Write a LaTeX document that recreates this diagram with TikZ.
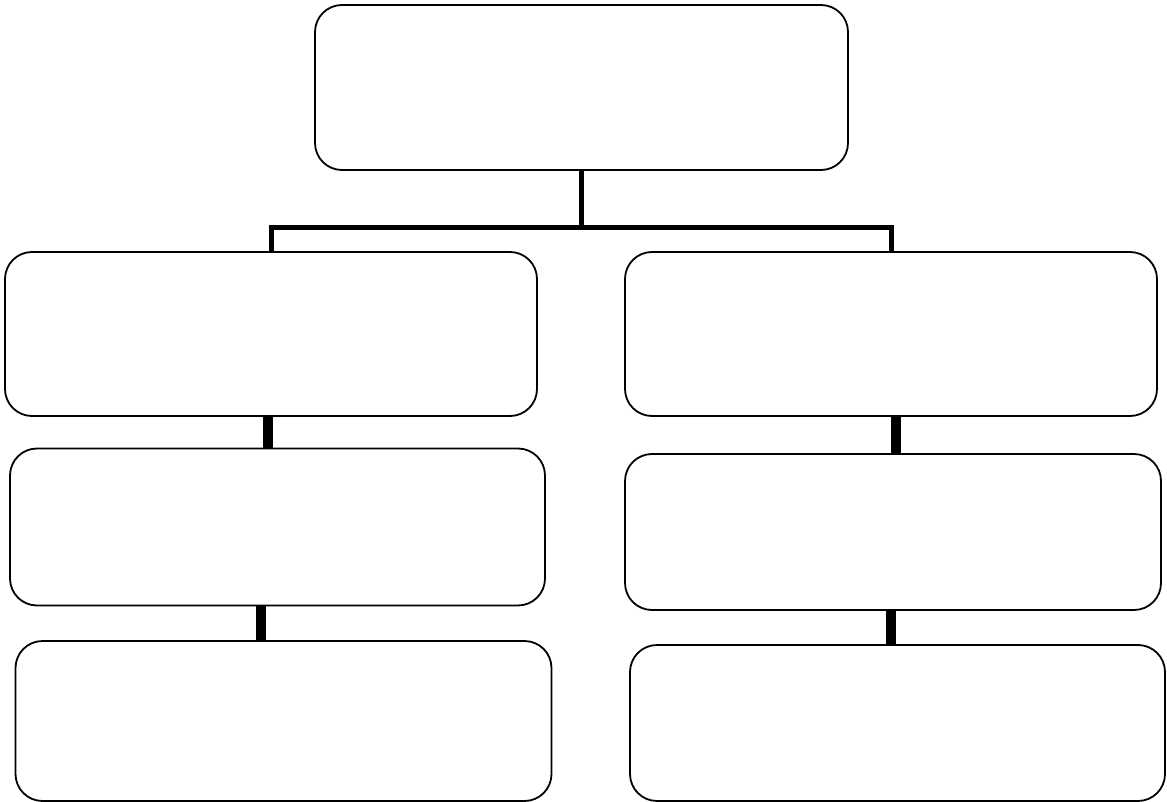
\documentclass[tikz,border=0pt]{standalone}
\usetikzlibrary{positioning}

\tikzset{
  box/.style={draw, line width=1.8pt, rounded corners=27pt, inner sep=0pt, outer sep=0pt},
  tree/.style={line width=5pt, line join=miter},
  link/.style={line width=10pt}
}

\begin{document}
\begin{tikzpicture}[x=1pt, y=-1pt]
\useasboundingbox (0,0) rectangle (1167,802);
\node[box, minimum width=533pt, minimum height=165pt] (top) at (581.5,87.5) {};
\node[box, minimum width=532pt, minimum height=164pt] (l1) at (271,334) {};
\node[box, minimum width=535pt, minimum height=157pt] (l2) at (277.5,527) {};
\node[box, minimum width=536pt, minimum height=160pt] (l3) at (283.5,721) {};
\node[box, minimum width=532pt, minimum height=164pt] (r1) at (891,334) {};
\node[box, minimum width=536pt, minimum height=156pt] (r2) at (893,532) {};
\node[box, minimum width=535pt, minimum height=156pt] (r3) at (897.5,723) {};
\coordinate (fork) at (581.5,228);
\draw[tree] (top.south) -- (fork);
\draw[tree] (l1.north) |- (fork) -| (r1.north);
\draw[link] ([xshift=-3pt]l1.south) -- ([xshift=-3pt]l1.south |- l2.north);
\draw[link] ([xshift=-17pt]l2.south) -- ([xshift=-17pt]l2.south |- l3.north);
\draw[link] ([xshift=5pt]r1.south) -- ([xshift=5pt]r1.south |- r2.north);
\draw[link] ([xshift=-2pt]r2.south) -- ([xshift=-2pt]r2.south |- r3.north);
\end{tikzpicture}
\end{document}
